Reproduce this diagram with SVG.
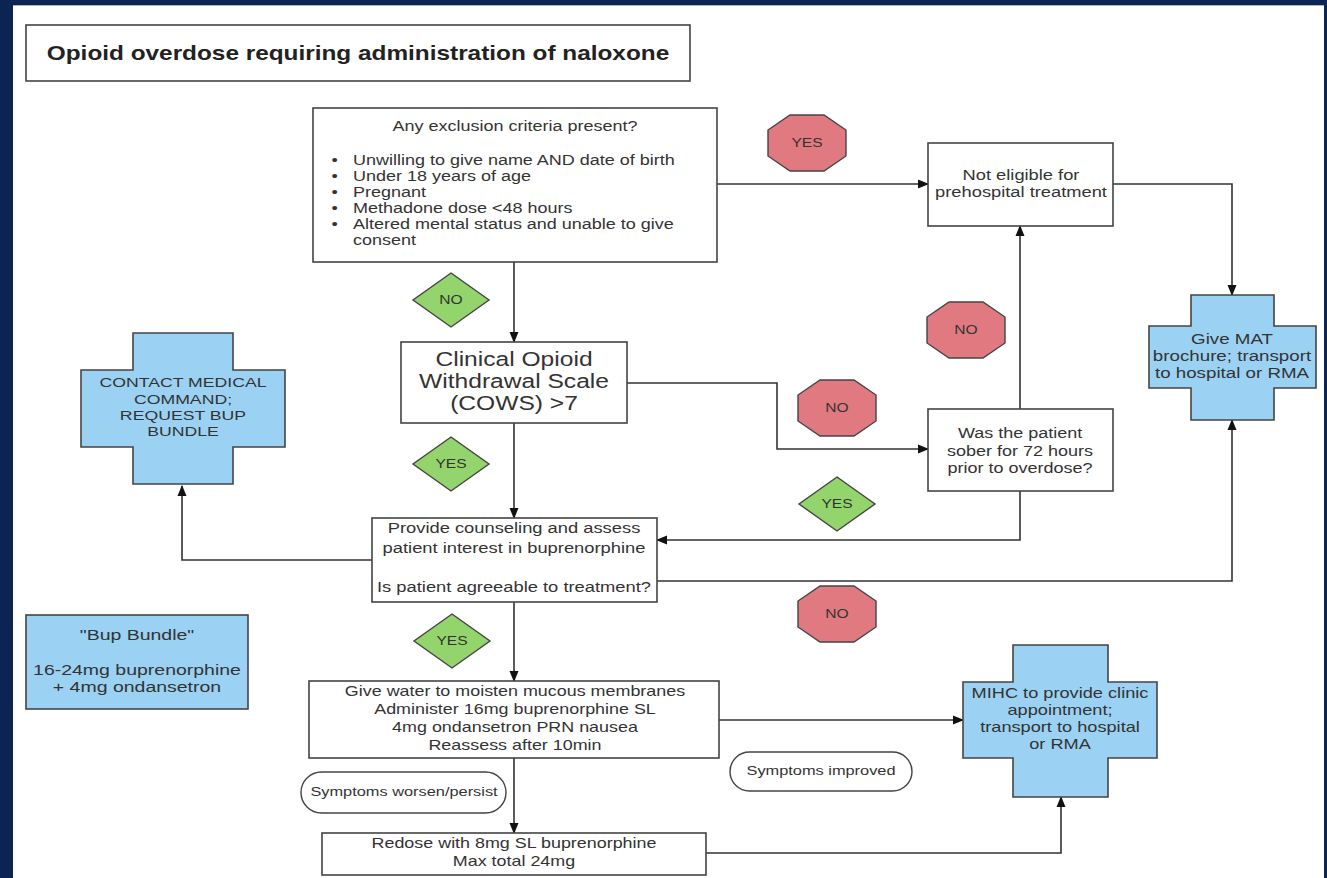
<svg xmlns="http://www.w3.org/2000/svg" width="1327" height="878" viewBox="0 0 1327 878">
  <defs>
    <style>
      text { font-family: "Liberation Sans", Arial, sans-serif; fill: #333; }
      .box { fill: #fff; stroke: #444; stroke-width: 1.6; }
      .blue { fill: #9bd2f4; stroke: #444; stroke-width: 1.6; }
      .oct { fill: #e07a80; stroke: #444; stroke-width: 1.4; }
      .dia { fill: #93d46c; stroke: #444; stroke-width: 1.4; }
      .pill { fill: #fff; stroke: #444; stroke-width: 1.4; }
      .lbl { font-size: 13px; text-anchor: middle; }
      .c { text-anchor: middle; }
      .wire { fill: none; stroke: #333; stroke-width: 1.6; }
    </style>
    <marker id="arrow" markerUnits="userSpaceOnUse" markerWidth="11" markerHeight="10" refX="10" refY="5" orient="auto">
      <path d="M0,0.5 L11,5 L0,9.5 Z" fill="#111"/>
    </marker>
    <polygon id="octagon" points="-17,-28 17,-28 39,-13 39,13 17,28 -17,28 -39,13 -39,-13"/>
    <polygon id="diamond" points="0,-27 38,0 0,27 -38,0"/>
  </defs>

  <!-- frame -->
  <rect x="0" y="0" width="1327" height="878" fill="#0b2452"/>
  <rect x="13" y="5" width="1311" height="873" fill="#fff"/>
  <line x1="13" y1="5.5" x2="1324" y2="5.5" stroke="#aab4cc" stroke-width="1"/>

  <!-- connectors -->
  <g id="connectors" class="wire">
    <path d="M717,184 H928" marker-end="url(#arrow)"/>
    <path d="M1113,184 H1232 V295" marker-end="url(#arrow)"/>
    <path d="M514,262 V342" marker-end="url(#arrow)"/>
    <path d="M627,383 H777 V449 H928" marker-end="url(#arrow)"/>
    <path d="M1020,409 V226" marker-end="url(#arrow)"/>
    <path d="M1020,491 V540 H657" marker-end="url(#arrow)"/>
    <path d="M514,423 V518" marker-end="url(#arrow)"/>
    <path d="M372,560 H182 V486" marker-end="url(#arrow)"/>
    <path d="M657,581 H1232 V420" marker-end="url(#arrow)"/>
    <path d="M514,602 V681" marker-end="url(#arrow)"/>
    <path d="M719,720 H963" marker-end="url(#arrow)"/>
    <path d="M514,758 V833" marker-end="url(#arrow)"/>
    <path d="M706,853 H1061 V797" marker-end="url(#arrow)"/>
  </g>

  <!-- title -->
  <g id="title">
    <rect class="box" x="26" y="25" width="664" height="56"/>
    <g transform="translate(358,0) scale(1.16,1)">
      <text x="0" y="60" class="c" style="font-size:21px;font-weight:bold;fill:#222">Opioid overdose requiring administration of naloxone</text>
    </g>
  </g>

  <!-- exclusion criteria -->
  <g id="exclusion">
    <rect class="box" x="313" y="108" width="404" height="154"/>
    <g transform="translate(515,0) scale(1.2,1)">
      <text x="0" y="131" class="c" style="font-size:15px">Any exclusion criteria present?</text>
    </g>
    <g transform="translate(353,0) scale(1.2,1)" style="font-size:15px">
      <text x="-18" y="165">•</text><text x="0" y="165">Unwilling to give name AND date of birth</text>
      <text x="-18" y="181">•</text><text x="0" y="181">Under 18 years of age</text>
      <text x="-18" y="197">•</text><text x="0" y="197">Pregnant</text>
      <text x="-18" y="213">•</text><text x="0" y="213">Methadone dose &lt;48 hours</text>
      <text x="-18" y="229">•</text><text x="0" y="229">Altered mental status and unable to give</text>
      <text x="0" y="245">consent</text>
    </g>
  </g>

  <g id="yes-exclusion"><use href="#octagon" class="oct" x="807" y="143"/><g transform="translate(807,0) scale(1.2,1)"><text x="0" y="147.5" class="lbl">YES</text></g></g>

  <g id="not-eligible">
    <rect class="box" x="928" y="143" width="185" height="83"/>
    <g transform="translate(1021,0) scale(1.22,1)" style="font-size:15px">
      <text x="0" y="180" class="c">Not eligible for</text>
      <text x="0" y="197" class="c">prehospital treatment</text>
    </g>
  </g>

  <g id="mat-brochure">
    <path class="blue" d="M1191,295 H1274 V326 H1316 V388 H1274 V420 H1191 V388 H1149 V326 H1191 Z"/>
    <g transform="translate(1232,0) scale(1.25,1)" style="font-size:15px">
      <text x="0" y="344" class="c">Give MAT</text>
      <text x="0" y="361" class="c">brochure; transport</text>
      <text x="0" y="378" class="c">to hospital or RMA</text>
    </g>
  </g>

  <g id="no-exclusion"><use href="#diamond" class="dia" x="451" y="300"/><g transform="translate(451,0) scale(1.2,1)"><text x="0" y="304.5" class="lbl">NO</text></g></g>

  <g id="cows">
    <rect class="box" x="401" y="342" width="226" height="81"/>
    <g transform="translate(514,0) scale(1.23,1)" style="font-size:20px">
      <text x="0" y="366" class="c">Clinical Opioid</text>
      <text x="0" y="388" class="c">Withdrawal Scale</text>
      <text x="0" y="410" class="c">(COWS) &gt;7</text>
    </g>
  </g>

  <g id="no-sober"><use href="#octagon" class="oct" x="966" y="330"/><g transform="translate(966,0) scale(1.2,1)"><text x="0" y="334.5" class="lbl">NO</text></g></g>
  <g id="no-cows"><use href="#octagon" class="oct" x="837" y="408"/><g transform="translate(837,0) scale(1.2,1)"><text x="0" y="412.5" class="lbl">NO</text></g></g>

  <g id="sober">
    <rect class="box" x="928" y="409" width="185" height="82"/>
    <g transform="translate(1020,0) scale(1.2,1)" style="font-size:15px">
      <text x="0" y="438" class="c">Was the patient</text>
      <text x="0" y="456" class="c">sober for 72 hours</text>
      <text x="0" y="473" class="c">prior to overdose?</text>
    </g>
  </g>

  <g id="yes-cows"><use href="#diamond" class="dia" x="451" y="464"/><g transform="translate(451,0) scale(1.2,1)"><text x="0" y="468.5" class="lbl">YES</text></g></g>
  <g id="yes-sober"><use href="#diamond" class="dia" x="837" y="504"/><g transform="translate(837,0) scale(1.2,1)"><text x="0" y="508.5" class="lbl">YES</text></g></g>

  <g id="contact-command">
    <path class="blue" d="M133,333 H233 V370 H285 V447 H233 V484 H133 V447 H81 V370 H133 Z"/>
    <g transform="translate(183,0) scale(1.36,1)" style="font-size:13px;fill:#444">
      <text x="0" y="387" class="c">CONTACT MEDICAL</text>
      <text x="0" y="404" class="c">COMMAND;</text>
      <text x="0" y="420" class="c">REQUEST BUP</text>
      <text x="0" y="436" class="c">BUNDLE</text>
    </g>
  </g>

  <g id="counseling">
    <rect class="box" x="372" y="518" width="285" height="84"/>
    <g transform="translate(514,0) scale(1.31,1)" style="font-size:14px">
      <text x="0" y="533" class="c">Provide counseling and assess</text>
      <text x="0" y="553" class="c">patient interest in buprenorphine</text>
      <text x="0" y="592" class="c">Is patient agreeable to treatment?</text>
    </g>
  </g>

  <g id="no-agree"><use href="#octagon" class="oct" x="837" y="614"/><g transform="translate(837,0) scale(1.2,1)"><text x="0" y="618.5" class="lbl">NO</text></g></g>
  <g id="yes-agree"><use href="#diamond" class="dia" x="452" y="641"/><g transform="translate(452,0) scale(1.2,1)"><text x="0" y="645.5" class="lbl">YES</text></g></g>

  <g id="bup-bundle">
    <rect class="blue" x="26" y="615" width="222" height="94"/>
    <g transform="translate(137,0) scale(1.3,1)" style="font-size:15px">
      <text x="0" y="640" class="c">"Bup Bundle"</text>
      <text x="0" y="675" class="c">16-24mg buprenorphine</text>
      <text x="0" y="692" class="c">+ 4mg ondansetron</text>
    </g>
  </g>

  <g id="give-water">
    <rect class="box" x="309" y="681" width="410" height="77"/>
    <g transform="translate(515,0) scale(1.28,1)" style="font-size:14px">
      <text x="0" y="696" class="c">Give water to moisten mucous membranes</text>
      <text x="0" y="714" class="c">Administer 16mg buprenorphine SL</text>
      <text x="0" y="732" class="c">4mg ondansetron PRN nausea</text>
      <text x="0" y="750" class="c">Reassess after 10min</text>
    </g>
  </g>

  <g id="mihc">
    <path class="blue" d="M1013,645 H1108 V682 H1157 V758 H1108 V797 H1013 V758 H963 V682 H1013 Z"/>
    <g transform="translate(1060,0) scale(1.3,1)" style="font-size:14px">
      <text x="0" y="698" class="c">MIHC to provide clinic</text>
      <text x="0" y="715" class="c">appointment;</text>
      <text x="0" y="732" class="c">transport to hospital</text>
      <text x="0" y="749" class="c">or RMA</text>
    </g>
  </g>

  <g id="symptoms-improved">
    <rect class="pill" x="730" y="752" width="182" height="39" rx="19.5"/>
    <g transform="translate(821,0) scale(1.26,1)">
      <text x="0" y="775" class="c" style="font-size:13px">Symptoms improved</text>
    </g>
  </g>

  <g id="symptoms-worsen">
    <rect class="pill" x="301" y="772" width="205" height="41" rx="20.5"/>
    <g transform="translate(404,0) scale(1.26,1)">
      <text x="0" y="796" class="c" style="font-size:13px">Symptoms worsen/persist</text>
    </g>
  </g>

  <g id="redose">
    <rect class="box" x="322" y="833" width="384" height="42"/>
    <g transform="translate(514,0) scale(1.28,1)" style="font-size:14px">
      <text x="0" y="848" class="c">Redose with 8mg SL buprenorphine</text>
      <text x="0" y="866" class="c">Max total 24mg</text>
    </g>
  </g>
</svg>
